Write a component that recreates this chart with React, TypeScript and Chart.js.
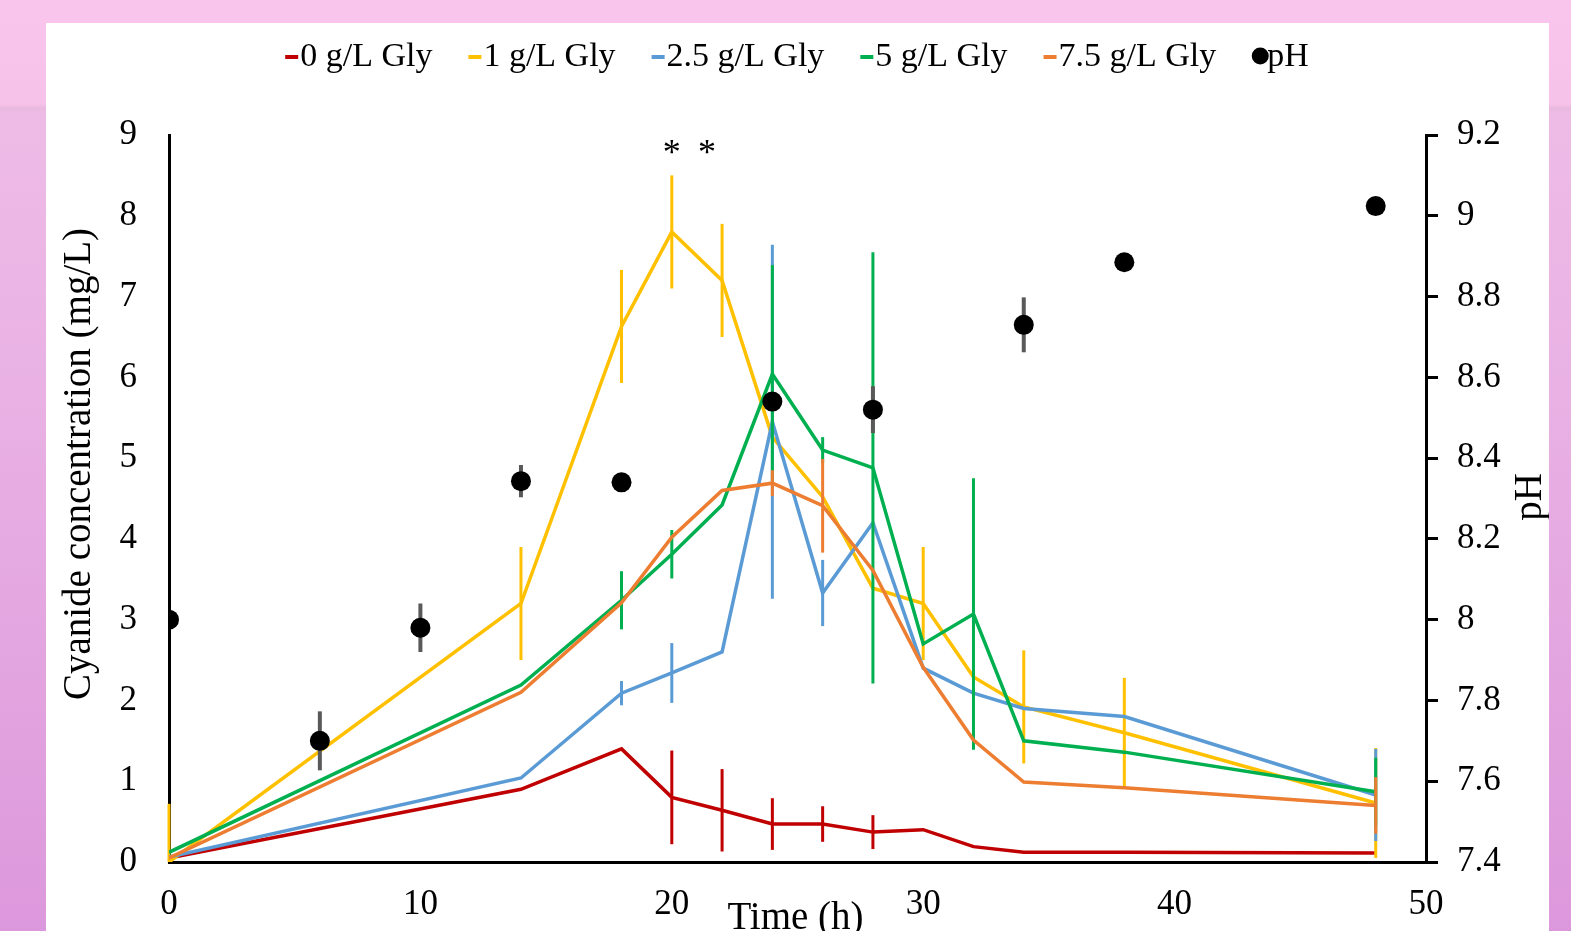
import React, { useEffect, useRef } from "react";
import { Chart, registerables } from "chart.js";

Chart.register(...registerables);

// ---- data ----
const timeH = [0, 14, 18, 20, 22, 24, 26, 28, 30, 32, 34, 38, 48];

const gly0 = [0.05, 0.9, 1.4, 0.8, 0.64, 0.47, 0.47, 0.37, 0.4, 0.19, 0.12, 0.12, 0.11];
const gly0Err = [0, 0, 0, 0.58, 0.51, 0.32, 0.22, 0.21, 0, 0, 0, 0, 0];

const gly1 = [0.0, 3.2, 6.63, 7.8, 7.2, 5.26, 4.52, 3.39, 3.2, 2.29, 1.92, 1.6, 0.73];
const gly1Err = [0.72, 0.7, 0.7, 0.7, 0.7, 0, 0, 0, 0.7, 0, 0.7, 0.68, 0.68];

const gly25 = [0.06, 1.04, 2.09, 2.34, 2.6, 5.45, 3.33, 4.2, 2.4, 2.09, 1.9, 1.8, 0.83];
const gly25Err = [0, 0, 0.15, 0.37, 0, 2.19, 0.41, 0, 0, 0, 0, 0, 0.57];

const gly5 = [0.12, 2.19, 3.24, 3.81, 4.42, 6.04, 5.1, 4.88, 2.7, 3.07, 1.5, 1.36, 0.87];
const gly5Err = [0, 0, 0.36, 0.3, 0, 1.35, 0.16, 2.67, 0, 1.68, 0, 0, 0.42];

const gly75 = [0.05, 2.1, 3.21, 4.02, 4.6, 4.69, 4.41, 3.61, 2.41, 1.51, 0.99, 0.92, 0.7];
const gly75Err = [0, 0, 0, 0, 0, 0.16, 0.58, 0, 0, 0, 0, 0, 0.35];

const phTime = [0, 6, 10, 14, 18, 24, 28, 34, 38, 48];
const phValues = [8.0, 7.7, 7.98, 8.343, 8.34, 8.54, 8.52, 8.73, 8.885, 9.024];
const phErr = [0, 0.073, 0.06, 0.04, 0, 0, 0.058, 0.068, 0, 0];

const seriesNames = ["0 g/L Gly", "1 g/L Gly", "2.5 g/L Gly", "5 g/L Gly", "7.5 g/L Gly"];
const phName = "pH";

const starX = [20, 21.4];
const starY = [8.85, 8.85];
const starText = ["*", "*"];

const xTitle = "Time (h)";
const yTitle = "Cyanide concentration (mg/L)";
const y2Title = "pH";

// ---- styles ----
const COLORS = ["#C00000", "#FFC000", "#5B9BD5", "#00B050", "#ED7D31"];
const FONT = "'Liberation Serif', 'Times New Roman', serif";

const toPoints = (xs: number[], ys: number[]) => xs.map((x, i) => ({ x, y: ys[i] }));

const errorBarPlugin = {
  id: "errorBars",
  beforeDatasetDraw(chart: any, args: any) {
    const ds = chart.data.datasets[args.index];
    if (!ds.errors) return;
    const xs = chart.scales.x;
    const ys = chart.scales[args.meta.yAxisID];
    const { ctx, chartArea } = chart;
    ctx.save();
    ctx.beginPath();
    ctx.rect(chartArea.left - 3, chartArea.top - 1, chartArea.right - chartArea.left + 6, chartArea.bottom - chartArea.top + 1);
    ctx.clip();
    ctx.strokeStyle = ds.errorColor;
    ctx.lineWidth = ds.errorWidth;
    ds.data.forEach((p: any, i: number) => {
      const e = ds.errors[i];
      if (!e) return;
      const x = xs.getPixelForValue(p.x);
      ctx.beginPath();
      ctx.moveTo(x, ys.getPixelForValue(p.y - e));
      ctx.lineTo(x, ys.getPixelForValue(p.y + e));
      ctx.stroke();
    });
    ctx.restore();
  },
};

const decorPlugin = {
  id: "decor",
  afterDraw(chart: any) {
    const { ctx, chartArea, scales } = chart;
    ctx.save();
    ctx.fillStyle = "#000";

    // asterisks
    ctx.font = `36px ${FONT}`;
    ctx.textAlign = "center";
    ctx.textBaseline = "alphabetic";
    starX.forEach((sx, i) => {
      const px = scales.x.getPixelForValue(sx);
      const py = scales.y.getPixelForValue(starY[i]);
      ctx.fillText(starText[i], px, py + 0.48 * 36);
    });

    // axis titles
    ctx.font = `39px ${FONT}`;
    ctx.textAlign = "center";
    ctx.textBaseline = "alphabetic";
    ctx.fillText(xTitle, (chartArea.left + chartArea.right) / 2 - 2, 906);

    ctx.save();
    ctx.translate(44, 441);
    ctx.rotate(-Math.PI / 2);
    ctx.fillText(yTitle, 0, 0);
    ctx.restore();

    ctx.save();
    ctx.translate(1495, 474);
    ctx.rotate(-Math.PI / 2);
    ctx.fillText(y2Title, 0, 0);
    ctx.restore();

    // legend
    ctx.font = `34px ${FONT}`;
    ctx.textBaseline = "middle";
    ctx.textAlign = "left";
    const markerW = 13;
    const gap = 2;
    const spacing = 36;
    const items = seriesNames.map((n, i) => ({ text: n, color: COLORS[i], kind: "line" }));
    items.push({ text: phName, color: "#000", kind: "dot" });
    const widths = items.map((it) => markerW + gap + ctx.measureText(it.text).width);
    const total = widths.reduce((a, b) => a + b, 0) + spacing * (items.length - 1);
    let cx = 751 - total / 2;
    const ly = 34;
    items.forEach((it, i) => {
      if (it.kind === "line") {
        ctx.fillStyle = it.color;
        ctx.fillRect(cx, ly - 2, markerW, 4);
      } else {
        ctx.fillStyle = "#000";
        ctx.beginPath();
        ctx.arc(cx + 8, ly - 1, 8.5, 0, Math.PI * 2);
        ctx.fill();
      }
      ctx.fillStyle = "#000";
      ctx.fillText(it.text, cx + markerW + gap, ly);
      cx += widths[i] + spacing;
    });
    ctx.restore();
  },
};

export default function App() {
  const ref = useRef<HTMLCanvasElement | null>(null);

  useEffect(() => {
    document.body.style.margin = "0";
    Chart.defaults.font.family = FONT;
    Chart.defaults.color = "#000";
    const lineSets = [
      [gly0, gly0Err],
      [gly1, gly1Err],
      [gly25, gly25Err],
      [gly5, gly5Err],
      [gly75, gly75Err],
    ].map(([vals, errs], i) => ({
      type: "line" as const,
      label: seriesNames[i],
      data: toPoints(timeH, vals),
      errors: errs,
      errorColor: COLORS[i],
      errorWidth: 3,
      borderColor: COLORS[i],
      backgroundColor: COLORS[i],
      borderWidth: 3.5,
      pointRadius: 0,
      tension: 0,
      fill: false,
      yAxisID: "y",
      order: 5 - i,
    }));
    const phSet = {
      type: "line" as const,
      label: phName,
      data: toPoints(phTime, phValues),
      errors: phErr,
      errorColor: "#595959",
      errorWidth: 4,
      showLine: false,
      borderColor: "#000",
      backgroundColor: "#000",
      pointRadius: 10,
      pointBorderWidth: 0,
      yAxisID: "y2",
      order: 0,
    };

    const chart = new Chart(ref.current as HTMLCanvasElement, {
      type: "line",
      data: { datasets: [...lineSets, phSet] as any },
      plugins: [errorBarPlugin, decorPlugin],
      options: {
        responsive: false,
        animation: false,
        devicePixelRatio: 1,
        layout: { padding: { top: 112, left: 0, right: 0, bottom: 0 } },
        plugins: { legend: { display: false }, tooltip: { enabled: false } },
        scales: {
          x: {
            type: "linear",
            min: 0,
            max: 50,
            ticks: { stepSize: 10, font: { size: 35, family: FONT }, color: "#000", padding: 22 },
            grid: { display: false, drawTicks: false },
            border: { display: true, color: "#000", width: 3 },
            afterFit: (s: any) => {
              s.height = 69;
            },
          },
          y: {
            type: "linear",
            position: "left",
            min: 0,
            max: 9,
            ticks: { stepSize: 1, font: { size: 35, family: FONT }, color: "#000", padding: 32 },
            grid: { display: false, drawTicks: false },
            border: { display: true, color: "#000", width: 3 },
            afterFit: (s: any) => {
              s.width = 123;
            },
          },
          y2: {
            type: "linear",
            position: "right",
            min: 7.4,
            max: 9.2,
            ticks: {
              stepSize: 0.2,
              font: { size: 35, family: FONT },
              color: "#000",
              padding: 19,
              callback: (v: any) => String(Number(Number(v).toFixed(1))),
            },
            grid: { display: true, drawOnChartArea: false, drawTicks: true, tickLength: 12, color: "#000", lineWidth: 3 },
            border: { display: true, color: "#000", width: 3 },
            afterFit: (s: any) => {
              s.width = 123;
            },
          },
        },
      } as any,
    });
    return () => chart.destroy();
  }, []);

  return (
    <div
      style={{
        position: "fixed",
        left: 0,
        top: 0,
        width: 1571,
        height: 931,
        overflow: "hidden",
        background:
          "linear-gradient(to bottom, #f9c5ec 0px, #f7c2ea 104px, #e9b9df 108px, #eebbe6 114px, #e9b1e4 400px, #e2a3df 700px, #dc98dc 931px)",
      }}
    >
      <div style={{ position: "absolute", left: 0, top: 0, width: 1571, height: 23, background: "#f9c5ec" }} />
      <div style={{ position: "absolute", left: 46, top: 23, width: 1503, height: 908, background: "#ffffff" }}>
        <canvas ref={ref} width={1503} height={908} style={{ display: "block", width: 1503, height: 908 }} />
      </div>
    </div>
  );
}
